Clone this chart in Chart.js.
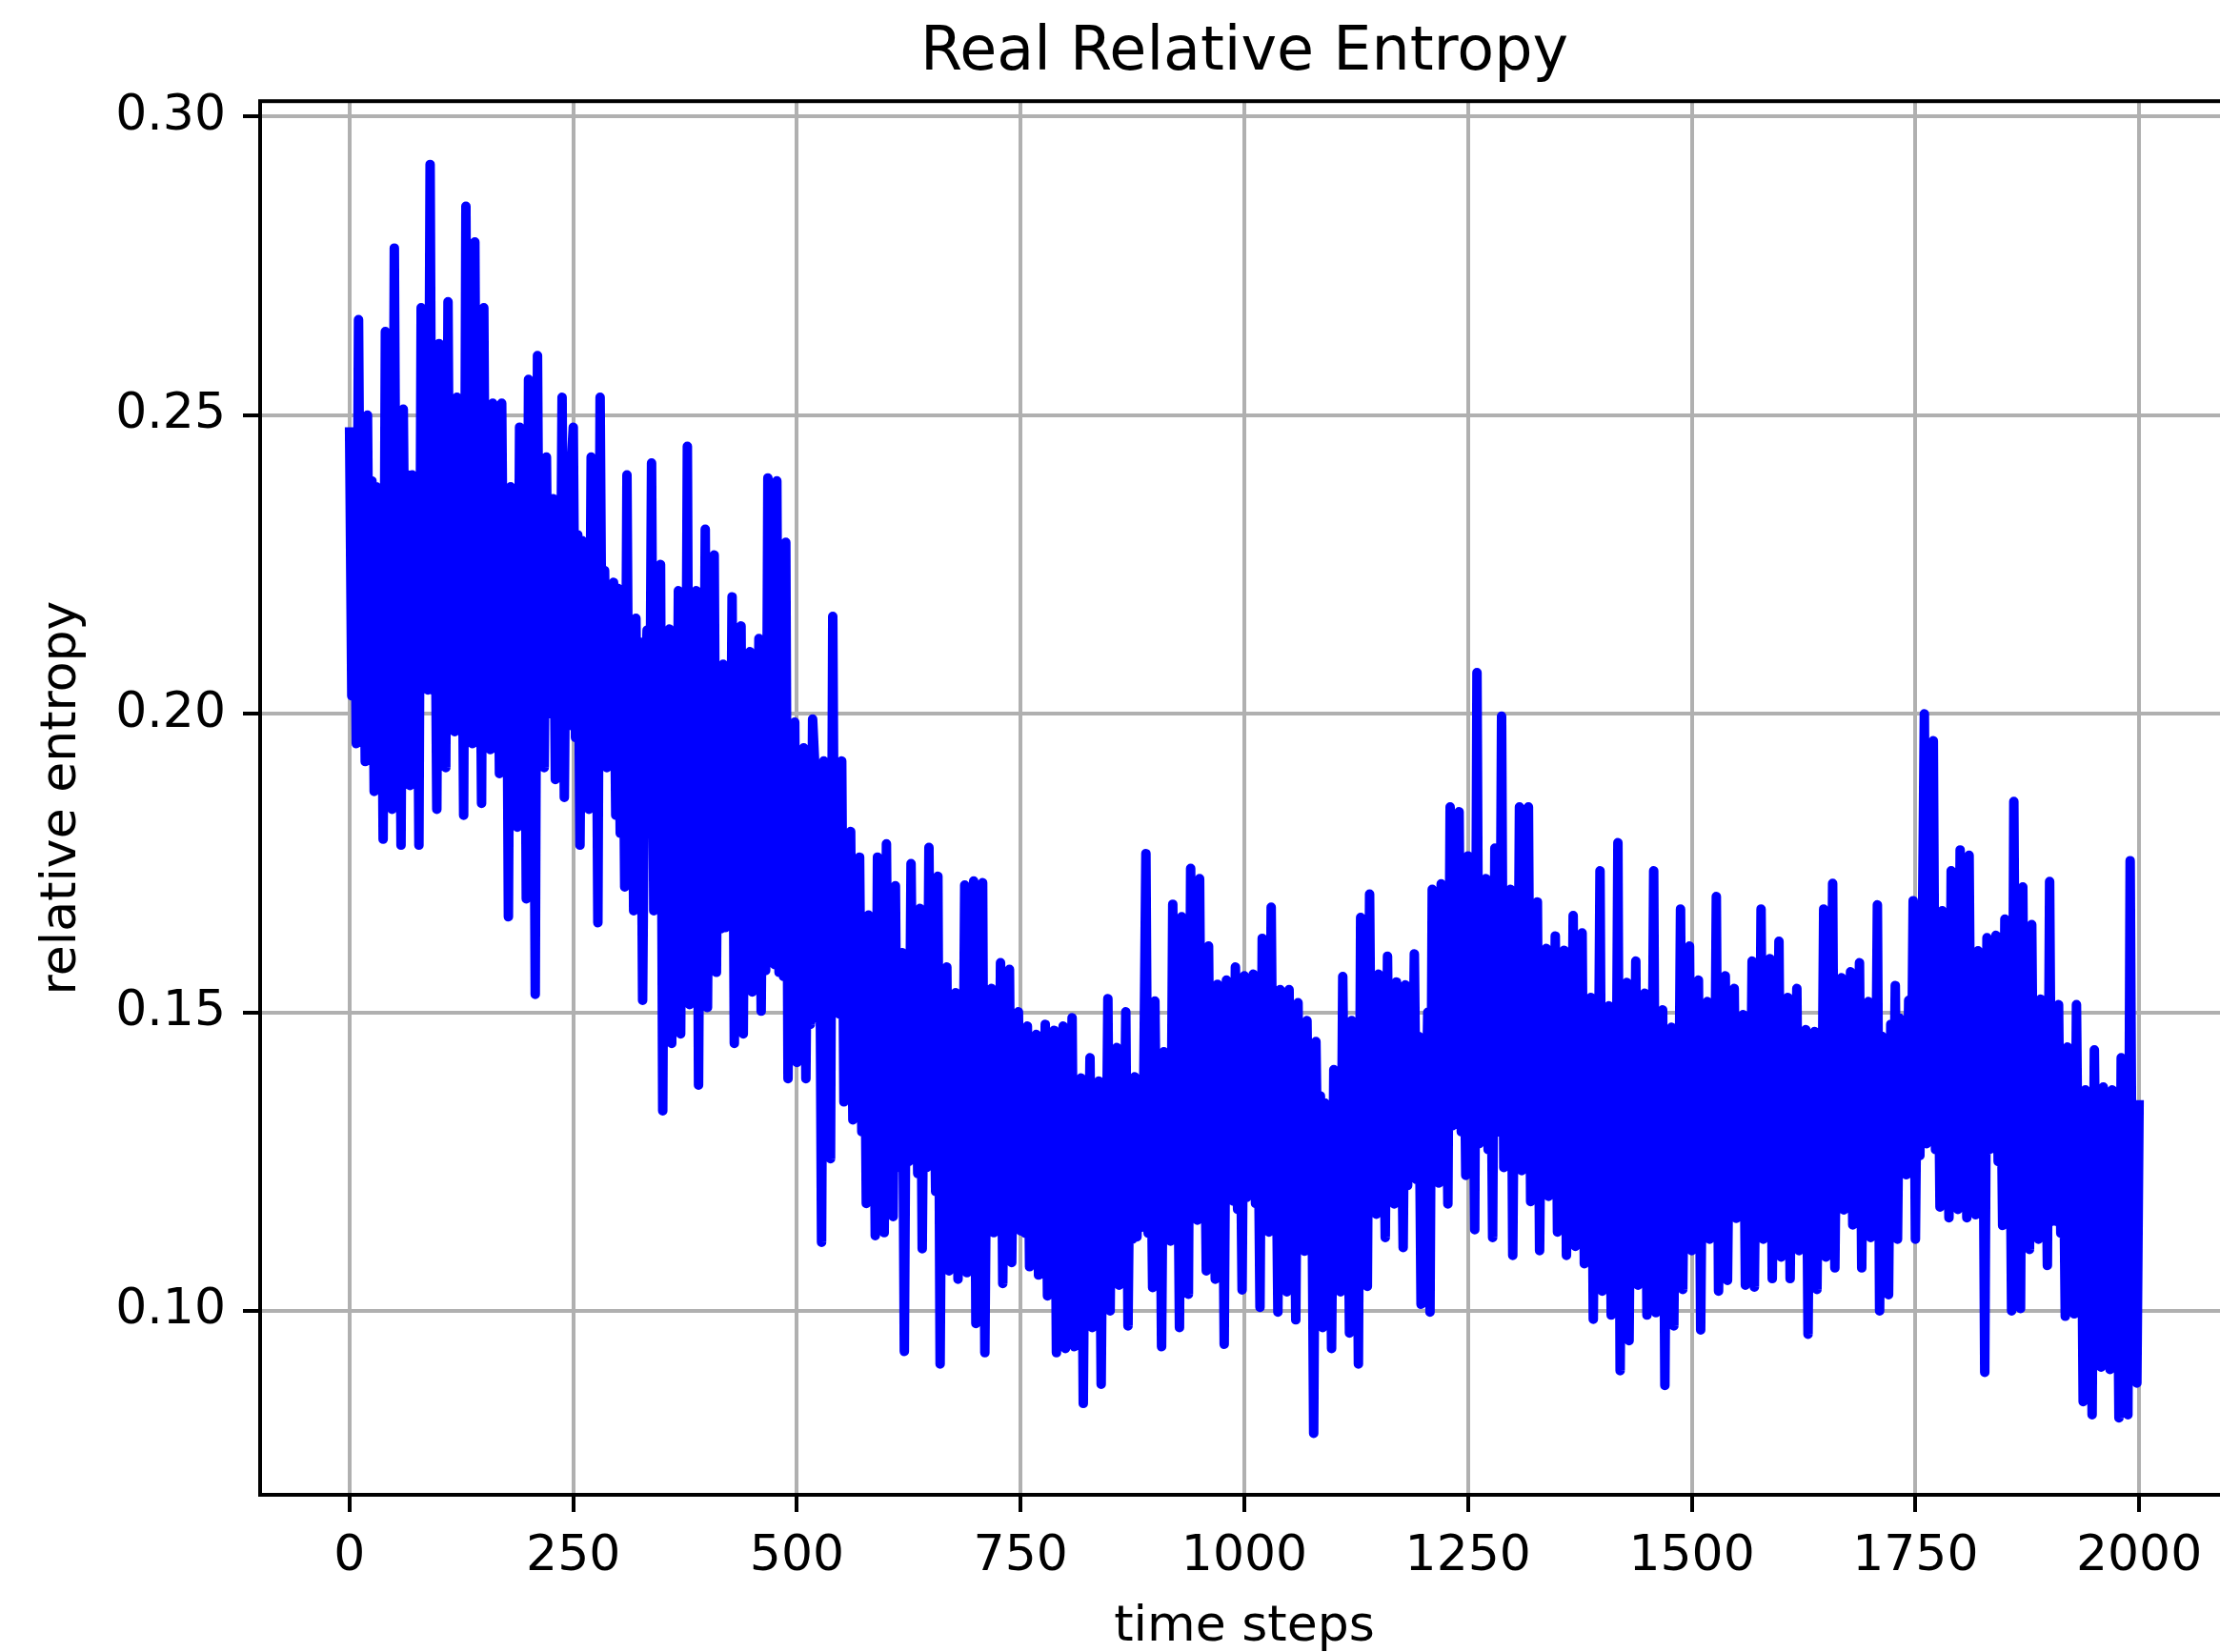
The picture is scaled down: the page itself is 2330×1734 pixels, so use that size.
<!DOCTYPE html>
<html>
<head>
<meta charset="utf-8">
<title>Real Relative Entropy</title>
<script src="https://cdn.jsdelivr.net/npm/chart.js@4.4.1/dist/chart.umd.min.js"></script>
<style>
  html, body { margin: 0; padding: 0; background: #ffffff; overflow: hidden; }
  #chart { display: block; }
</style>
</head>
<body>
<canvas id="chart" width="2345" height="1734"></canvas>
<script>
// Relative entropy, one value every STEP time steps (0..2000)
const STEP = 2.5;
const entropy = [
  0.248, 0.203, 0.240, 0.195, 0.266, 0.206, 0.236, 0.192, 0.250, 0.201, 0.239, 0.187, 0.238, 0.205, 0.234, 0.179, 0.264, 0.202, 0.240, 0.184, // 0
  0.278, 0.205, 0.236, 0.178, 0.251, 0.207, 0.240, 0.188, 0.240, 0.203, 0.237, 0.178, 0.268, 0.206, 0.239, 0.204, 0.292, 0.204, 0.236, 0.184, // 50
  0.262, 0.206, 0.238, 0.191, 0.269, 0.204, 0.240, 0.197, 0.253, 0.207, 0.236, 0.183, 0.285, 0.205, 0.239, 0.195, 0.279, 0.203, 0.237, 0.185, // 100
  0.268, 0.204, 0.236, 0.194, 0.252, 0.202, 0.238, 0.190, 0.252, 0.205, 0.234, 0.166, 0.238, 0.201, 0.236, 0.181, 0.248, 0.203, 0.233, 0.169, // 150
  0.256, 0.201, 0.234, 0.153, 0.260, 0.199, 0.236, 0.191, 0.243, 0.200, 0.231, 0.236, 0.189, 0.234, 0.200, 0.253, 0.186, 0.232, 0.198, 0.241, // 200
  0.248, 0.196, 0.230, 0.178, 0.229, 0.194, 0.226, 0.184, 0.243, 0.197, 0.228, 0.165, 0.253, 0.195, 0.224, 0.191, 0.218, 0.192, 0.222, 0.183, // 250
  0.221, 0.180, 0.216, 0.171, 0.240, 0.178, 0.214, 0.167, 0.216, 0.177, 0.212, 0.152, 0.200, 0.214, 0.180, 0.242, 0.167, 0.212, 0.176, 0.225, // 300
  0.1335, 0.209, 0.170, 0.2142, 0.1448, 0.211, 0.167, 0.2206, 0.1464, 0.208, 0.169, 0.2448, 0.1513, 0.210, 0.166, 0.2206, 0.1378, 0.207, 0.168, 0.2309, // 350
  0.1508, 0.205, 0.166, 0.2266, 0.1567, 0.207, 0.164, 0.2083, 0.1642, 0.204, 0.167, 0.2196, 0.1448, 0.206, 0.163, 0.2147, 0.1464, 0.203, 0.165, 0.2104, // 400
  0.1534, 0.201, 0.160, 0.2126, 0.1502, 0.199, 0.157, 0.2395, 0.1674, 0.200, 0.158, 0.2390, 0.1567, 0.197, 0.156, 0.2287, 0.1389, 0.192, 0.152, 0.1986, // 450
  0.1416, 0.186, 0.150, 0.1943, 0.1389, 0.184, 0.148, 0.1991, 0.1910, 0.149, 0.183, 0.1115, 0.1921, 0.147, 0.185, 0.1255, 0.2163, 0.150, 0.182, 0.1497, // 500
  0.1921, 0.135, 0.170, 0.1400, 0.1803, 0.132, 0.166, 0.1400, 0.1760, 0.130, 0.165, 0.1180, 0.1663, 0.128, 0.162, 0.1126, 0.1760, 0.127, 0.160, 0.1131, // 550
  0.1782, 0.126, 0.158, 0.1158, 0.1712, 0.124, 0.156, 0.1600, 0.0932, 0.157, 0.125, 0.1749, 0.1341, 0.155, 0.123, 0.1674, 0.1104, 0.156, 0.124, 0.1776, // 600
  0.1276, 0.150, 0.120, 0.1728, 0.0911, 0.148, 0.118, 0.1576, 0.1067, 0.146, 0.117, 0.1533, 0.1053, 0.147, 0.119, 0.1713, 0.1064, 0.145, 0.116, 0.1720, // 650
  0.0979, 0.143, 0.116, 0.1717, 0.0930, 0.141, 0.114, 0.1540, 0.1131, 0.142, 0.115, 0.1583, 0.1046, 0.140, 0.113, 0.1572, 0.1081, 0.141, 0.116, 0.1501, // 700
  0.1134, 0.139, 0.113, 0.1477, 0.1074, 0.137, 0.111, 0.1463, 0.1060, 0.138, 0.112, 0.1480, 0.1025, 0.136, 0.110, 0.1470, 0.0930, 0.137, 0.112, 0.1477, // 750
  0.0937, 0.136, 0.111, 0.1491, 0.0940, 0.134, 0.109, 0.1390, 0.0845, 0.135, 0.110, 0.1424, 0.0972, 0.133, 0.108, 0.1385, 0.0877, 0.135, 0.111, 0.1523, // 800
  0.1000, 0.137, 0.113, 0.1441, 0.1043, 0.138, 0.111, 0.1501, 0.0975, 0.136, 0.112, 0.1392, 0.1124, 0.137, 0.114, 0.1367, 0.1766, 0.113, 0.139, 0.1039, // 850
  0.1519, 0.117, 0.141, 0.0940, 0.1434, 0.115, 0.140, 0.1117, 0.1681, 0.116, 0.143, 0.0972, 0.1660, 0.117, 0.142, 0.1028, 0.1741, 0.118, 0.141, 0.1152, // 900
  0.1724, 0.119, 0.142, 0.1067, 0.1611, 0.117, 0.141, 0.1053, 0.1547, 0.118, 0.143, 0.0944, 0.1554, 0.119, 0.140, 0.1184, 0.1576, 0.117, 0.142, 0.1035, // 950
  0.1561, 0.119, 0.139, 0.1237, 0.1564, 0.118, 0.141, 0.1006, 0.1624, 0.117, 0.140, 0.1132, 0.1676, 0.119, 0.138, 0.0998, 0.1538, 0.118, 0.139, 0.1032, // 1000
  0.1538, 0.117, 0.136, 0.0985, 0.1516, 0.115, 0.137, 0.1100, 0.1486, 0.116, 0.135, 0.0795, 0.1451, 0.117, 0.136, 0.0972, 0.1348, 0.115, 0.134, 0.0937, // 1050
  0.1404, 0.119, 0.139, 0.1032, 0.1560, 0.118, 0.141, 0.0963, 0.1486, 0.117, 0.140, 0.0911, 0.1659, 0.119, 0.142, 0.1041, 0.1698, 0.120, 0.141, 0.1162, // 1100
  0.1564, 0.121, 0.143, 0.1123, 0.1594, 0.120, 0.144, 0.1179, 0.1551, 0.122, 0.142, 0.1106, 0.1546, 0.121, 0.145, 0.1250, 0.1598, 0.122, 0.146, 0.1011, // 1150
  0.1434, 0.126, 0.150, 0.0998, 0.1706, 0.127, 0.153, 0.1214, 0.1715, 0.129, 0.156, 0.1179, 0.1844, 0.131, 0.158, 0.1356, 0.1836, 0.130, 0.159, 0.1227, // 1200
  0.1762, 0.129, 0.160, 0.1136, 0.2069, 0.128, 0.161, 0.1296, 0.1724, 0.127, 0.159, 0.1123, 0.1775, 0.158, 0.130, 0.1996, 0.1240, 0.160, 0.129, 0.1706, // 1250
  0.1093, 0.157, 0.127, 0.1844, 0.1235, 0.156, 0.126, 0.1844, 0.1183, 0.154, 0.125, 0.1685, 0.1101, 0.152, 0.124, 0.1607, 0.1192, 0.150, 0.123, 0.1628, // 1300
  0.1132, 0.147, 0.122, 0.1604, 0.1093, 0.146, 0.121, 0.1662, 0.1108, 0.145, 0.120, 0.1633, 0.1079, 0.144, 0.119, 0.1525, 0.0986, 0.145, 0.121, 0.1737, // 1350
  0.1033, 0.143, 0.119, 0.1511, 0.0993, 0.142, 0.118, 0.1784, 0.0900, 0.144, 0.117, 0.1550, 0.0950, 0.143, 0.119, 0.1586, 0.1043, 0.141, 0.118, 0.1532, // 1400
  0.0993, 0.142, 0.118, 0.1737, 0.0997, 0.141, 0.116, 0.1504, 0.0875, 0.143, 0.117, 0.1475, 0.0975, 0.142, 0.118, 0.1673, 0.1036, 0.140, 0.116, 0.1611, // 1450
  0.1101, 0.143, 0.119, 0.1554, 0.0968, 0.142, 0.117, 0.1518, 0.1120, 0.141, 0.118, 0.1694, 0.1033, 0.143, 0.119, 0.1561, 0.1051, 0.142, 0.117, 0.1540, // 1500
  0.1155, 0.143, 0.119, 0.1496, 0.1043, 0.144, 0.118, 0.1586, 0.1040, 0.142, 0.117, 0.1673, 0.1120, 0.143, 0.119, 0.1590, 0.1054, 0.144, 0.118, 0.1619, // 1550
  0.1090, 0.142, 0.119, 0.1525, 0.1054, 0.143, 0.118, 0.1540, 0.1101, 0.141, 0.117, 0.1471, 0.0961, 0.142, 0.118, 0.1468, 0.1036, 0.143, 0.119, 0.1673, // 1600
  0.1090, 0.145, 0.121, 0.1716, 0.1072, 0.144, 0.120, 0.1558, 0.1169, 0.146, 0.122, 0.1568, 0.1144, 0.145, 0.121, 0.1583, 0.1072, 0.144, 0.120, 0.1518, // 1650
  0.1123, 0.147, 0.122, 0.1680, 0.1000, 0.146, 0.121, 0.1442, 0.1027, 0.148, 0.123, 0.1545, 0.1120, 0.149, 0.124, 0.1478, 0.1228, 0.152, 0.126, 0.1687, // 1700
  0.1120, 0.152, 0.126, 0.158, 0.2000, 0.128, 0.156, 0.1335, 0.1955, 0.127, 0.157, 0.1174, 0.1670, 0.128, 0.155, 0.1156, 0.1737, 0.127, 0.156, 0.1170, // 1750
  0.1772, 0.127, 0.153, 0.1156, 0.1763, 0.126, 0.152, 0.1161, 0.1603, 0.125, 0.151, 0.0897, 0.1625, 0.127, 0.150, 0.1272, 0.1629, 0.125, 0.151, 0.1143, // 1800
  0.1656, 0.123, 0.149, 0.1000, 0.1853, 0.122, 0.148, 0.1004, 0.1710, 0.121, 0.147, 0.1103, 0.1647, 0.120, 0.145, 0.1120, 0.1522, 0.118, 0.143, 0.1076, // 1850
  0.1719, 0.115, 0.138, 0.1150, 0.1513, 0.113, 0.136, 0.0991, 0.1442, 0.112, 0.135, 0.0995, 0.1513, 0.111, 0.134, 0.0848, 0.1370, 0.110, 0.132, 0.0826, // 1900
  0.1437, 0.106, 0.129, 0.0906, 0.1375, 0.105, 0.128, 0.0902, 0.1370, 0.104, 0.127, 0.0821, 0.1424, 0.105, 0.128, 0.0826, 0.1754, 0.106, 0.129, 0.0879, // 1950
  0.1353 // 2000
];

const xTicks = [0, 250, 500, 750, 1000, 1250, 1500, 1750, 2000];
const yTicks = [0.10, 0.15, 0.20, 0.25, 0.30];
const xRange = [-100, 2100];
const yRange = [0.0692, 0.3026];

const FONT = "'DejaVu Sans', 'Liberation Sans', sans-serif";

// matplotlib style frame (all four spines) drawn over the line
const axesFrame = {
  id: 'axesFrame',
  afterDatasetsDraw(chart) {
    const { ctx, chartArea: a } = chart;
    ctx.save();
    ctx.strokeStyle = '#000000';
    ctx.lineWidth = 4;
    ctx.strokeRect(a.left, a.top, a.right - a.left, a.bottom - a.top);
    ctx.restore();
  }
};

const points = entropy.map((v, i) => ({ x: i * STEP, y: v }));

new Chart(document.getElementById('chart'), {
  type: 'line',
  data: {
    datasets: [{
      data: points,
      borderColor: '#0000ff',
      borderWidth: 10,
      borderJoinStyle: 'round',
      borderCapStyle: 'butt',
      pointRadius: 0,
      tension: 0,
      fill: false
    }]
  },
  options: {
    responsive: false,
    animation: false,
    layout: { padding: { left: 0, right: 6, top: 0, bottom: 0 } },
    plugins: {
      legend: { display: false },
      tooltip: { enabled: false },
      title: {
        display: true,
        text: 'Real Relative Entropy',
        fullSize: false,
        color: '#000000',
        font: { family: FONT, size: 63.5, weight: 'normal', lineHeight: 1.2 },
        padding: { top: 18, bottom: 12 }
      }
    },
    scales: {
      x: {
        type: 'linear',
        min: xRange[0],
        max: xRange[1],
        afterBuildTicks: (scale) => { scale.ticks = xTicks.map(v => ({ value: v })); },
        afterFit: (scale) => { scale.height = 165; },
        ticks: {
          color: '#000000',
          font: { family: FONT, size: 52 },
          padding: 16,
          maxRotation: 0,
          autoSkip: false,
          callback: (v) => String(v)
        },
        grid: {
          color: '#b0b0b0',
          lineWidth: 4,
          drawTicks: true,
          tickLength: 18,
          tickColor: '#000000',
          tickWidth: 4
        },
        border: { display: false },
        title: {
          display: true,
          text: 'time steps',
          color: '#000000',
          font: { family: FONT, size: 52, lineHeight: 1.0 },
          padding: { top: 0, bottom: 0 }
        }
      },
      y: {
        type: 'linear',
        min: yRange[0],
        max: yRange[1],
        afterBuildTicks: (scale) => { scale.ticks = yTicks.map(v => ({ value: v })); },
        afterFit: (scale) => { scale.width = 273; },
        ticks: {
          color: '#000000',
          font: { family: FONT, size: 52 },
          padding: 18,
          autoSkip: false,
          callback: (v) => Number(v).toFixed(2)
        },
        grid: {
          color: '#b0b0b0',
          lineWidth: 4,
          drawTicks: true,
          tickLength: 18,
          tickColor: '#000000',
          tickWidth: 4
        },
        border: { display: false },
        title: {
          display: true,
          text: 'relative entropy',
          color: '#000000',
          font: { family: FONT, size: 52, lineHeight: 1.2 },
          padding: { top: 34, bottom: 0 }
        }
      }
    }
  },
  plugins: [axesFrame]
});
</script>
</body>
</html>
